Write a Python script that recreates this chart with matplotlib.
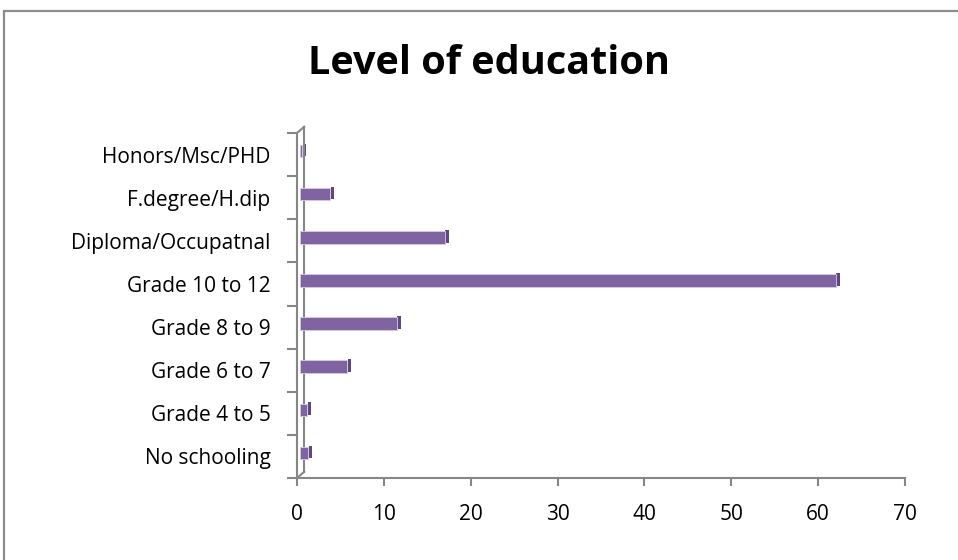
import matplotlib.pyplot as plt
import matplotlib.transforms as mtransforms
from matplotlib.patches import Rectangle
from matplotlib.lines import Line2D

categories = ['No schooling', 'Grade 4 to 5', 'Grade 6 to 7', 'Grade 8 to 9',
              'Grade 10 to 12', 'Diploma/Occupatnal', 'F.degree/H.dip', 'Honors/Msc/PHD']
values = [1.3, 1.2, 5.8, 11.5, 62.0, 17.0, 3.8, 0.6]
xticks = [0, 10, 20, 30, 40, 50, 60, 70]

grey = '#868686'
purple = '#8064a2'
purple_dark = '#5e4880'

plt.rcParams['font.family'] = ['Open Sans', 'DejaVu Sans']

fig = plt.figure(figsize=(9.58, 5.60), dpi=100)
fig.patches.append(Rectangle((4/958, -0.1), 1.2, 1 - 11/560 + 0.1, transform=fig.transFigure,
                             fill=False, edgecolor='#8c8c8c', linewidth=1.6))

ax = fig.add_axes([297/958, 1 - 478/560, (905 - 297)/958, (478 - 133)/560])
ax.set_xlim(0, 70)
ax.set_ylim(-0.5, len(categories) - 0.5)

ypos = [y + 0.08 for y in range(len(categories))]
bh = 0.29
# dark end face of each bar, nudged up and right
depth = mtransforms.offset_copy(ax.transData, fig=fig, x=0.4, y=0.8, units='points')
ax.barh(ypos, [0.4] * len(values), left=values, height=bh, color=purple_dark,
        transform=depth, zorder=2)
ax.barh(ypos, [v - 0.35 for v in values], left=0.35, height=bh, color=purple,
        edgecolor='#d6cce3', linewidth=0.6, zorder=3)

# back wall of the 3D plot area
dx, dy = 5.2, 4.5
wall = mtransforms.offset_copy(ax.transAxes, fig=fig, x=dx, y=dy, units='points')
ax.add_line(Line2D([0, 0], [0, 1], transform=wall, color=grey, lw=1.5, clip_on=False))
fx = dx / 72 * 100 / 608
fy = dy / 72 * 100 / 345
for yy in (0, 1):
    ax.add_line(Line2D([0, fx], [yy, yy + fy], transform=ax.transAxes,
                       color=grey, lw=1.5, clip_on=False))

for s in ('top', 'right'):
    ax.spines[s].set_visible(False)
for s in ('left', 'bottom'):
    ax.spines[s].set_color(grey)
    ax.spines[s].set_linewidth(1.5)

ax.set_xticks(xticks)
ax.set_xticklabels([str(t) for t in xticks], fontsize=15)
ax.tick_params(axis='x', length=6, width=1.5, color=grey, pad=13)
ax.set_yticks([y - 0.5 for y in range(len(categories) + 1)], minor=True)
ax.set_yticks(range(len(categories)))
ax.set_yticklabels(categories, fontsize=15)
ax.tick_params(axis='y', which='major', length=0, pad=19)
ax.tick_params(axis='y', which='minor', length=7, width=1.5, color=grey)

fig.text(489/958, 1 - 63/560, 'Level of education', ha='center', va='center',
         fontsize=28.5, fontweight='bold')

fig.savefig('out.png', dpi=100)
